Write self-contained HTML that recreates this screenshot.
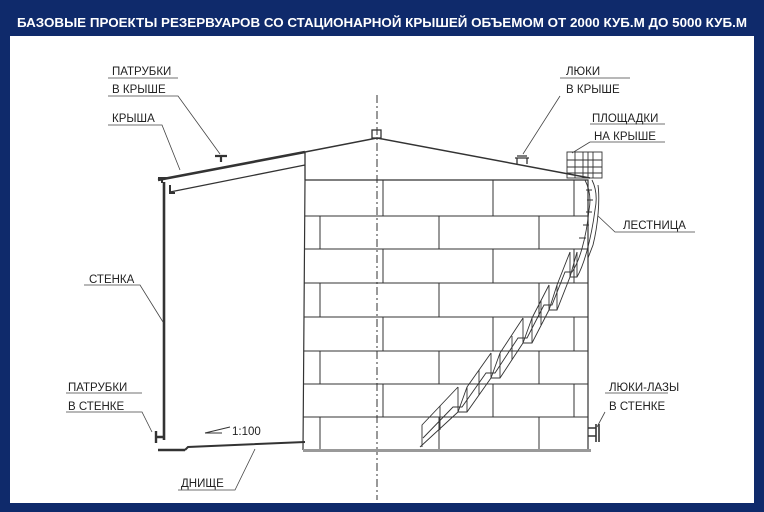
<!DOCTYPE html>
<html><head><meta charset="utf-8"><style>
html,body{margin:0;padding:0;background:#0f2a6b;}
svg{display:block}
text{font-family:"Liberation Sans",sans-serif;font-size:11.5px;fill:#222;}
</style></head><body>
<svg width="764" height="512" viewBox="0 0 764 512" xmlns="http://www.w3.org/2000/svg">
<rect width="764" height="512" fill="#0f2a6b"/>
<rect x="10" y="36" width="744" height="467" fill="#fff"/>
<text x="382" y="27" text-anchor="middle" style="fill:#fff;font-weight:bold;font-size:12.5px" textLength="730" lengthAdjust="spacingAndGlyphs">БАЗОВЫЕ ПРОЕКТЫ РЕЗЕРВУАРОВ СО СТАЦИОНАРНОЙ КРЫШЕЙ ОБЪЕМОМ ОТ 2000 КУБ.М   ДО 5000 КУБ.М</text>

<g stroke="#333" fill="none">
<line x1="377" y1="95" x2="377" y2="500" stroke-dasharray="8,3,2,3" stroke-width="1"/>
<path d="M305 180 L303 450 M305 180 L588 180 L588 450 M303 450 L590 450" stroke-width="1.2"/>
<g stroke-width="1">
<line x1="305" y1="216" x2="588" y2="216"/><line x1="305" y1="249" x2="588" y2="249"/>
<line x1="304" y1="283" x2="588" y2="283"/><line x1="304" y1="317" x2="588" y2="317"/>
<line x1="304" y1="351" x2="588" y2="351"/><line x1="304" y1="384" x2="588" y2="384"/>
<line x1="303" y1="417" x2="588" y2="417"/>
<path d="M383 180V216 M493 180V216 M574 180V216"/>
<path d="M320 216V249 M439 216V249 M539 216V249"/>
<path d="M383 249V283 M493 249V283 M574 249V283"/>
<path d="M320 283V317 M439 283V317 M539 283V317"/>
<path d="M383 317V351 M493 317V351 M574 317V351"/>
<path d="M320 351V384 M439 351V384 M539 351V384"/>
<path d="M383 384V417 M493 384V417 M574 384V417"/>
<path d="M320 417V450 M439 417V450 M539 417V450"/>
</g>
<rect x="303" y="449" width="288" height="3" fill="#999" stroke="none"/>
<path d="M158 180 L305 152" stroke-width="2.6"/>
<path d="M305 152 L377 138 L590 178" stroke-width="1.5"/>
<path d="M170 192 L305 165 M305 152 V180" stroke-width="1.3"/>
<path d="M158 178 h10 M162 178 v5 M170 185 v8 h5" stroke-width="2"/>
<path d="M164 182 V440" stroke-width="2.6"/>
<path d="M156 437 h8 M156 431 v12" stroke-width="2.4"/>
<path d="M158 450 H185" stroke-width="2.4"/>
<path d="M185 450 L188 447 L305 442" stroke-width="2"/>
<path d="M221 162 V156 M215 156 H227" stroke-width="2.2"/>
<rect x="372" y="130" width="9" height="8" stroke-width="1.3"/>
<path d="M515 158 H529 M517 158 V164 M527 158 V164 M517 156 H527" stroke-width="1.3"/>
<g stroke-width="0.9">
<rect x="567" y="152" width="35" height="26"/>
<path d="M575 152V178 M583 152V178 M588 152V178 M593 152V178 M567 160H602 M567 167H602 M567 173H602"/>
</g>
<g stroke-width="0.9">
<path d="M592 180 C597 190 597 200 595 210 C591 240 584 265 577 277 L570 277 L557 310 L549 310 L532 343 L523 343 L500 378 L491 378 L467 412 L458 412 L420 447"/>
<path d="M585 180 C590 190 591 200 589 210 C586 240 579 262 572 272 L565 272 L552 305 L544 305 L527 338 L518 338 L495 373 L486 373 L462 407 L453 407 L423 438"/>
<path d="M598 185 C600 200 598 225 593 245 L588 258 M577 252 L570 277 M557 285 L549 310 M532 318 L523 343 M500 353 L491 378 M467 387 L458 412 M458 387 L422 425 L422 447 M467 387 L491 353 M500 353 L523 318 M532 318 L549 285 M557 285 L570 252"/>
<path d="M458 387V412 M467 387V412 M491 353V378 M500 353V378 M523 318V343 M532 318V343 M549 285V310 M557 285V310 M570 252V277 M577 252V277 M440 406V430 M479 370V395 M512 336V360 M541 300V325"/>
<path d="M592 190 L586 190 M593 200 L587 200 M592 212 L586 212 M589 225 L583 225 M586 238 L579 238"/>
</g>
<path d="M588 428 H596 M596 424 V442 M588 436 H596 M599 424 V442" stroke-width="1.6"/>
<path d="M205 433 L230 427 M205 433 H222" stroke-width="0.9"/>
<g stroke-width="0.8" stroke="#444">
<path d="M108 78 H178 M108 96 H178 L220 154"/>
<path d="M108 125 H162 L180 170"/>
<path d="M560 78 H630 M560 96 L523 154"/>
<path d="M590 124 H665 M590 142 H665 M590 142 L572 153"/>
<path d="M695 232 H615 L598 216"/>
<path d="M84 285 H140 L163 322"/>
<path d="M66 393 H142 M66 412 H142 L152 432"/>
<path d="M605 393 H668 M605 412 L597 427"/>
<path d="M178 490 H235 L255 449"/>
</g>
</g>
<text x="112" y="75">ПАТРУБКИ</text><text x="112" y="93">В КРЫШЕ</text>
<text x="112" y="122">КРЫША</text>
<text x="566" y="75">ЛЮКИ</text><text x="566" y="93">В КРЫШЕ</text>
<text x="592" y="122">ПЛОЩАДКИ</text><text x="594" y="140">НА КРЫШЕ</text>
<text x="623" y="229">ЛЕСТНИЦА</text>
<text x="89" y="283">СТЕНКА</text>
<text x="68" y="391">ПАТРУБКИ</text><text x="68" y="410">В СТЕНКЕ</text>
<text x="609" y="391">ЛЮКИ-ЛАЗЫ</text><text x="609" y="410">В СТЕНКЕ</text>
<text x="232" y="435">1:100</text>
<text x="181" y="487">ДНИЩЕ</text>
</svg>
</body></html>
